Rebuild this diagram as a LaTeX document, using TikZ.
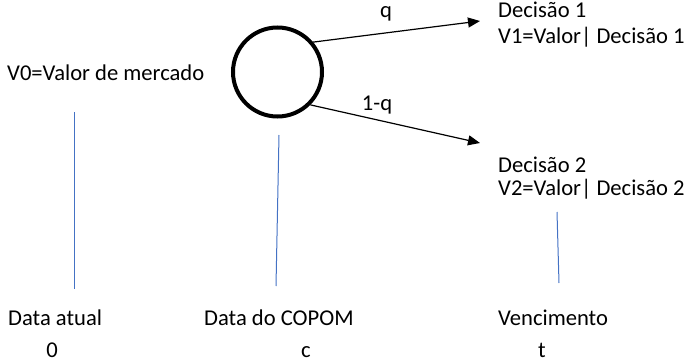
\documentclass[tikz,border=0pt]{standalone}
\usepackage{fontspec}
\setmainfont{Carlito}
\usepackage{tikz}
\usetikzlibrary{arrows.meta,calc}
\definecolor{linhaazul}{HTML}{4472C4}

\begin{document}
\begin{tikzpicture}[x=1pt, y=-1pt,
  rotulo/.style={anchor=base west, inner sep=0pt, font=\fontsize{22.6}{27}\selectfont},
  data/.style={anchor=base, inner sep=0pt, font=\fontsize{22.6}{27}\selectfont},
  marca/.style={draw=linhaazul, line width=1pt},
  ramo/.style={draw, line width=1.2pt, -{Triangle[length=12pt,width=10pt]}}]
                \useasboundingbox (0,0) rectangle (689,362);
                % no de chance no dia do COPOM
                \node[circle, draw, line width=4pt, minimum size=89pt, inner sep=0pt] (copom) at (277.5,72) {};
                \node[rotulo] (v0) at (7,80) {V0=Valor de mercado};
                \node[rotulo] (dec1) at (498,17) {Decisão 1};
                \node[rotulo] (v1) at (498,43) {V1=Valor| Decisão 1};
                \node[rotulo] (dec2) at (498,172) {Decisão 2};
                \node[rotulo] (v2) at (498,195) {V2=Valor| Decisão 2};
                \coordinate (fim1) at (480,21);
                \coordinate (fim2) at (480,143);
                \draw[ramo] (copom.40) -- (fim1);
                \draw[ramo] (copom.-45) -- (fim2);
                \node[data] (q) at (386,17) {q};
                \node[data] (umq) at (377,110) {1-q};
                % linha do tempo
                \draw[marca] (74,112) -- (74,289);
                \draw[marca] (279,135) -- (276,286);
                \draw[marca] (557,212) -- (559,283);
                \node[rotulo] (hoje) at (8,325) {Data atual};
                \node[rotulo] (reuniao) at (204,325) {Data do COPOM};
                \node[rotulo] (venc) at (498,325) {Vencimento};
                \node[data] (t0) at (52,357) {0};
                \node[data] (tc) at (306,357) {c};
                \node[data] (tt) at (542,357) {t};
            \end{tikzpicture}
\end{document}
